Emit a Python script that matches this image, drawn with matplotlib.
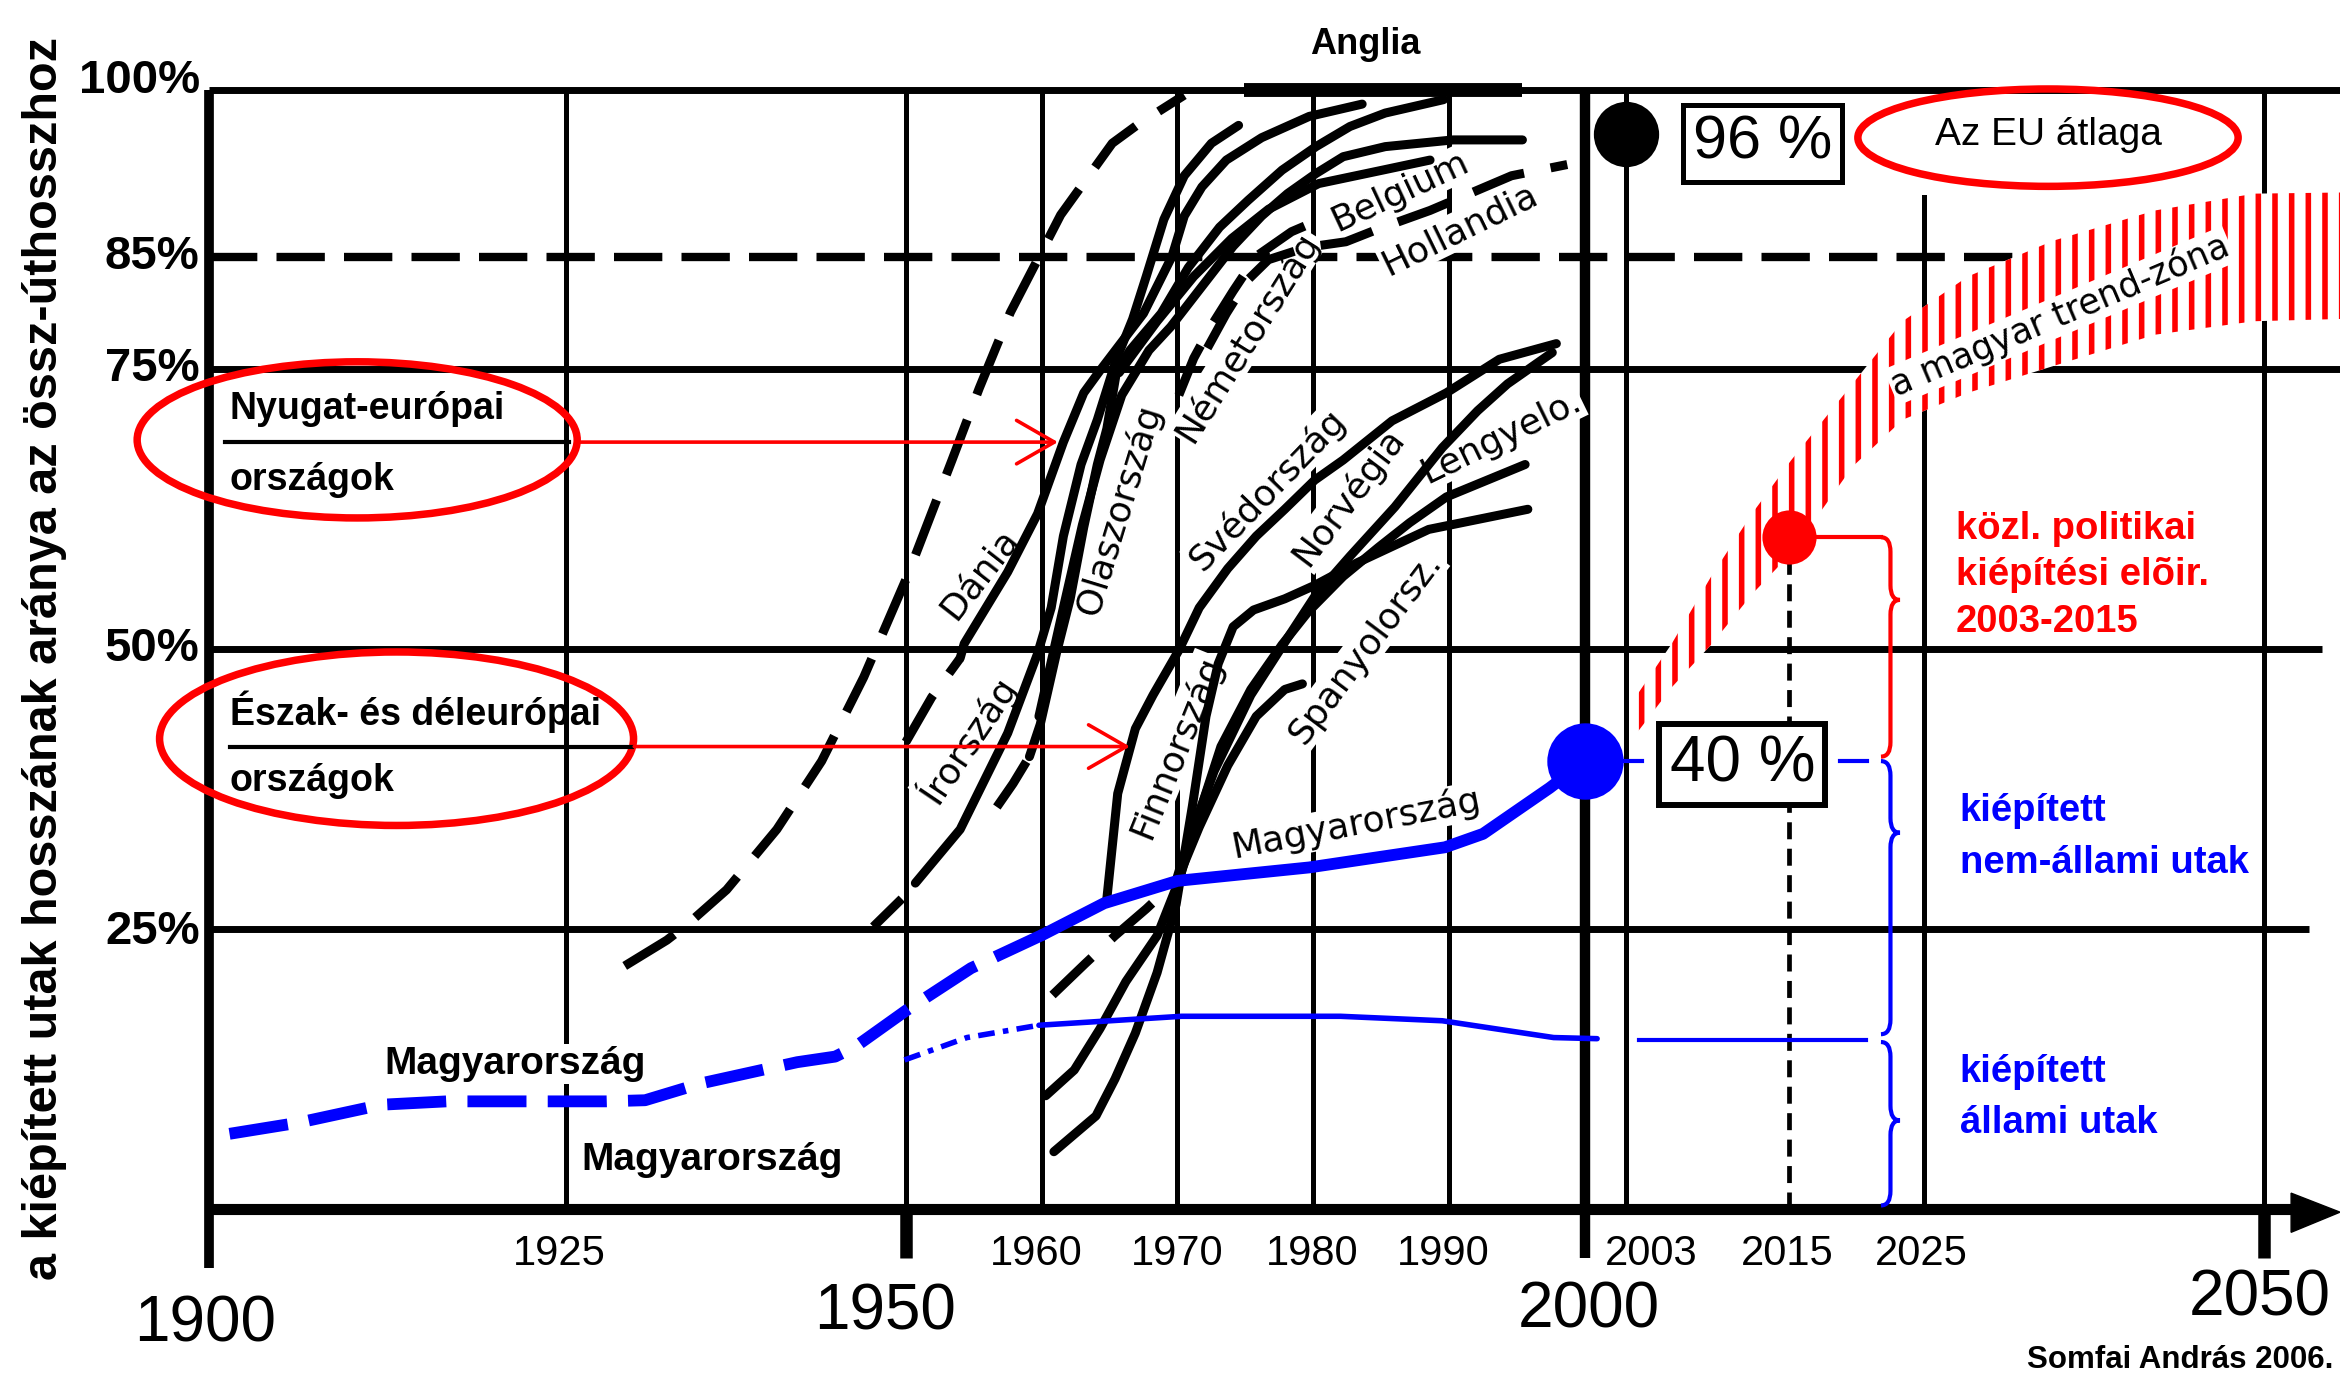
import matplotlib.pyplot as plt
from matplotlib.patches import Ellipse, Polygon, PathPatch
from matplotlib.path import Path

plt.rcParams['font.family'] = ['Liberation Sans', 'DejaVu Sans']
plt.rcParams['hatch.linewidth'] = 4.0
plt.rcParams['hatch.color'] = '#ff0000'

BLUE = '#0000ff'
RED = '#ff0000'

# share of built (paved) roads in total road length, %
anglia_years = [1929.3, 1932.4, 1934.0, 1936.8, 1940.5, 1943.8, 1946.9, 1950.1, 1953.4,
                1955.4, 1957.7, 1961.4, 1965.2, 1967.0, 1970.5]
anglia_pct = [21.7, 24.0, 25.5, 28.5, 33.9, 40.0, 47.5, 56.5, 66.9, 73.3, 80.1, 88.8, 95.2, 96.8, 99.5]

dania_years = [1950.0, 1951.9, 1954.0, 1954.3, 1957.5, 1959.7, 1961.6, 1963.1, 1964.3, 1967.5,
               1969.6, 1970.5, 1971.8, 1973.6, 1976.2, 1979.7, 1983.6]
dania_pct = [41.7, 45.7, 49.2, 50.5, 56.9, 62.1, 68.5, 72.9, 74.9, 80.0, 85.1, 88.7, 91.3, 93.7,
             95.7, 97.6, 98.7]

irorszag_years = [1947.6, 1949.7, 1950.7, 1954.0, 1957.5, 1959.7, 1960.7, 1961.6, 1962.9, 1964.1,
                  1965.5, 1966.7, 1967.7, 1969.0, 1970.5, 1972.5, 1974.5]
irorszag_pct = [25.2, 27.7, 29.1, 33.9, 42.5, 49.6, 53.7, 60.1, 66.5, 70.5, 75.9, 79.5, 83.3, 88.4,
                92.3, 95.2, 96.8]

olasz1_years = [1956.7, 1957.9, 1959.1, 1959.9, 1961.1, 1962.1, 1963.1, 1964.1, 1964.8, 1965.5,
                1966.5, 1968.8, 1970.8, 1973.1, 1975.2, 1977.7, 1980.2, 1982.7, 1985.3, 1989.6]
olasz1_pct = [35.9, 38.0, 40.4, 43.3, 49.7, 54.5, 60.9, 66.5, 69.7, 74.7, 76.7, 80.0, 84.1, 87.7,
              90.1, 92.8, 94.9, 96.7, 97.9, 99.1]

olasz2_years = [1959.8, 1961.6, 1963.0, 1964.3, 1965.9, 1967.9, 1969.5, 1971.8, 1974.1, 1976.2,
                1978.1, 1980.2, 1982.2, 1985.3, 1990.3, 1995.4]
olasz2_pct = [44.0, 53.7, 61.1, 66.9, 72.7, 76.7, 78.8, 82.4, 86.0, 88.7, 90.7, 92.5, 94.0, 94.9,
              95.5, 95.5]

belgium_years = [1965.7, 1968.5, 1971.2, 1974.0, 1976.7, 1980.4, 1985.1, 1988.6]
belgium_pct = [74.7, 79.3, 83.3, 86.7, 89.3, 91.6, 92.8, 93.7]

nemet_years = [1970.1, 1971.2, 1972.5, 1974.1, 1975.8, 1978.4, 1981.1]
nemet_pct = [72.7, 76.0, 78.9, 82.0, 85.1, 87.3, 88.7]

holland_years = [1972.2, 1973.6, 1975.1, 1976.7, 1979.5, 1982.4, 1984.7, 1988.6, 1994.6, 1998.7]
holland_pct = [76.9, 80.0, 82.9, 84.8, 85.9, 86.4, 87.5, 89.2, 92.3, 93.3]

sved_years = [1964.8, 1965.6, 1966.9, 1968.2, 1970.1, 1971.6, 1973.7, 1975.8, 1977.9, 1980.1,
              1982.2, 1985.8, 1989.8, 1993.7, 1997.9]
sved_pct = [27.7, 37.1, 42.9, 45.9, 49.9, 53.7, 57.2, 60.1, 62.5, 65.1, 66.9, 70.4, 72.9, 75.9, 77.3]

finn_years = [1960.9, 1964.0, 1965.4, 1966.9, 1968.5, 1969.9, 1971.1, 1972.1, 1973.0, 1974.1,
              1975.6, 1977.9, 1980.1, 1983.2, 1988.5, 1995.8]
finn_pct = [5.1, 8.3, 11.6, 15.7, 21.1, 27.2, 36.0, 44.0, 48.7, 52.0, 53.5, 54.5, 55.7, 57.7,
            60.7, 62.5]

lengyel_years = [1960.3, 1962.4, 1964.3, 1966.2, 1968.5, 1970.1, 1971.6, 1973.2, 1975.4, 1977.7,
                 1979.6, 1982.2, 1984.8, 1987.1, 1989.8, 1995.6]
lengyel_pct = [10.1, 12.4, 16.1, 20.3, 24.4, 29.3, 35.3, 41.3, 46.4, 50.4, 53.3, 56.5, 59.1, 61.3,
               63.6, 66.5]

norv_years = [1960.8, 1963.2, 1965.4, 1967.7, 1969.9, 1970.5, 1972.7, 1975.4, 1978.0, 1980.1,
              1982.7, 1986.0, 1989.5, 1992.1, 1994.3, 1997.6]
norv_pct = [19.1, 21.9, 24.4, 26.8, 29.3, 31.7, 39.1, 45.9, 50.8, 54.7, 58.3, 62.7, 68.0, 71.3,
            73.7, 76.5]

spany_years = [1970.1, 1971.6, 1973.7, 1975.8, 1977.9, 1979.2]
spany_pct = [29.7, 34.1, 39.6, 44.0, 46.4, 46.9]

# Hungary: all built roads / built state roads
hu_total_years = [1900.2, 1905.3, 1911.4, 1916.2, 1927.9, 1930.8, 1934.9, 1942.0, 1944.8, 1946.3,
                  1950.0, 1954.8, 1960.1, 1964.6, 1970.0, 1979.7, 1989.7, 1992.5, 1997.4, 2000.0]
hu_total_pct = [6.7, 7.7, 9.3, 9.6, 9.6, 9.7, 11.2, 13.1, 13.6, 14.5, 17.7, 21.5, 24.5, 27.3, 29.3,
                30.5, 32.3, 33.5, 37.6, 40.0]
hu_state_years = [1949.9, 1954.5, 1959.8, 1970.3, 1982.0, 1989.5, 1997.7, 2000.9]
hu_state_pct = [13.3, 15.3, 16.4, 17.2, 17.2, 16.8, 15.3, 15.2]

# Hungarian trend zone
trend_years = [2003.5, 2006.4, 2009.3, 2012.3, 2015.2, 2019.7, 2023.4, 2028.2, 2034.5, 2042.0,
               2049.3, 2055.6]
trend_upper = [45.3, 50.5, 56.5, 62.1, 66.9, 73.7, 79.3, 83.3, 86.5, 89.2, 90.7, 90.8]
trend_lower = [42.0, 46.6, 50.4, 54.9, 58.6, 66.3, 70.5, 72.9, 75.3, 78.1, 79.3, 79.5]

eu_avg = (2003, 96)
hu_2000 = (2000, 40)
target_2015 = (2015, 60)

fig = plt.figure(figsize=(23.4, 13.73), dpi=100)
ax = fig.add_axes([0, 0, 1, 1])
ax.set_xlim(1883.3, 2055.6)
ax.set_ylim(-14.67, 108.0)
ax.axis('off')

X0 = 1898.7   # left frame line (under the "1900" label)
XR = 2055.6

# ---- grid / frame ----
for lvl, end in zip([100, 75, 50, 25], [XR, XR, 2054.3, 2053.3]):
    ax.plot([X0, end], [lvl, lvl], color='black', lw=5, solid_capstyle='butt', zorder=1)
ax.plot([X0, XR], [85, 85], color='black', lw=6, dashes=(5.8, 2.3), zorder=1)
for yr, top in zip([1925, 1950, 1960, 1970, 1980, 1990, 2003, 2025, 2050],
                   [100, 100, 100, 100, 100, 100, 100, 90.4, 100]):
    ax.plot([yr, yr], [0, top], color='black', lw=3.6, zorder=1)
ax.plot([2000, 2000], [-4.4, 100], color='black', lw=7.5, solid_capstyle='butt', zorder=1)
ax.plot([2015, 2015], [0, 60], color='black', lw=3.4, dashes=(3.6, 2.0), zorder=1)
ax.plot([X0, X0], [-5.3, 100], color='black', lw=7, solid_capstyle='butt', zorder=1)
ax.plot([X0, 2052.5], [0, 0], color='black', lw=8, solid_capstyle='butt', zorder=1)
for yr in [1950, 2050]:
    ax.plot([yr, yr], [0, -4.4], color='black', lw=9, solid_capstyle='butt', zorder=1)
ax.add_patch(Polygon([(2052.0, 1.4), (XR, -0.3), (2052.0, -2.1)], closed=True,
                     color='black', zorder=1))
ax.plot([1974.9, 1995.4], [100, 100], color='black', lw=10, solid_capstyle='butt', zorder=1)

# ---- trend zone ----
ax.fill_between(trend_years, trend_lower, trend_upper, facecolor='white', edgecolor=RED,
                hatch='|', linewidth=0, zorder=2)
ax.text(2035.0, 79.8, 'a magyar trend-zóna', fontsize=25, family='DejaVu Sans', rotation=23,
        rotation_mode='anchor', ha='center', va='center', zorder=2.2,
        bbox=dict(boxstyle='square,pad=0.05', fc='white', ec='none'))


def draw(xs, ys, n_dash=0, join=True, lw=6.5, dashes=(6, 3), color='black', z=3):
    if n_dash:
        ax.plot(xs[:n_dash], ys[:n_dash], color=color, lw=lw, dashes=dashes, zorder=z)
    start = n_dash - 1 if (n_dash and join) else n_dash
    if start < len(xs) - 1:
        ax.plot(xs[start:], ys[start:], color=color, lw=lw, solid_joinstyle='round',
                solid_capstyle='round', zorder=z)


draw(anglia_years, anglia_pct, n_dash=len(anglia_years), lw=6.5, dashes=(6.5, 3.0))
draw(dania_years, dania_pct, n_dash=3)
draw(irorszag_years, irorszag_pct, n_dash=2, join=False)
draw(olasz1_years, olasz1_pct, n_dash=3)
draw(olasz2_years, olasz2_pct)
draw(belgium_years, belgium_pct)
draw(nemet_years, nemet_pct, n_dash=len(nemet_years))
draw(holland_years, holland_pct, n_dash=len(holland_years))
draw(sved_years, sved_pct)
draw(finn_years, finn_pct)
draw(lengyel_years, lengyel_pct)
draw(norv_years, norv_pct, n_dash=5)
draw(spany_years, spany_pct)

draw(hu_total_years, hu_total_pct, n_dash=13, lw=8.5, dashes=(5, 1.8), color=BLUE, z=3.5)
draw(hu_state_years, hu_state_pct, n_dash=3, lw=4, dashes=(3, 1.5, 1, 1.5), color=BLUE, z=3.5)
ax.plot([2004.0, 2020.7], [15.1, 15.1], color=BLUE, lw=3, zorder=3.5)
ax.plot([2000, 2004.2], [40, 40], color=BLUE, lw=3, zorder=3.5)
ax.plot([2018.8, 2020.8], [40, 40], color=BLUE, lw=3, zorder=3.5)
ax.plot([target_2015[0], 2021.8], [target_2015[1]] * 2, color=RED, lw=3, zorder=3.5)


def brace(x, top, bottom, tip, color):
    dx, dy = 0.7, 1.3
    verts = [(x - dx, top), (x, top), (x, top - dy), (x, tip + dy),
             (x, tip), (x + dx, tip), (x, tip), (x, tip - dy),
             (x, bottom + dy), (x, bottom), (x - dx, bottom)]
    codes = [Path.MOVETO, Path.CURVE3, Path.CURVE3, Path.LINETO,
             Path.CURVE3, Path.CURVE3, Path.CURVE3, Path.CURVE3,
             Path.LINETO, Path.CURVE3, Path.CURVE3]
    ax.add_patch(PathPatch(Path(verts, codes), fill=False, ec=color, lw=3, zorder=4))


brace(2022.5, 60.0, 40.4, 54.4, RED)
brace(2022.5, 40.0, 15.6, 33.6, BLUE)
brace(2022.5, 14.9, 0.3, 7.9, BLUE)

# ---- dots and boxes ----
ax.plot(*eu_avg, 'o', ms=47, color='black', mec='none', zorder=5)
ax.plot(*hu_2000, 'o', ms=55, color=BLUE, mec='none', zorder=5)
ax.plot(*target_2015, 'o', ms=39, color=RED, mec='none', zorder=5)
ax.text(2013.1, 95.2, '96 %', fontsize=44, ha='center', va='center', zorder=5,
        bbox=dict(boxstyle='square,pad=0.16', fc='white', ec='black', lw=3.6))
ax.text(2011.6, 39.7, '40 %', fontsize=46, ha='center', va='center', zorder=5,
        bbox=dict(boxstyle='square,pad=0.16', fc='white', ec='black', lw=4.3))
ax.add_patch(Ellipse((2034.1, 95.7), 28.0, 8.7, fill=False, ec=RED, lw=5.4, zorder=4))
ax.text(2034.1, 95.9, 'Az EU átlaga', fontsize=28, ha='center', va='center', zorder=5)

# ---- left group boxes ----
ax.add_patch(Ellipse((1909.6, 68.7), 32.4, 13.95, fill=False, ec=RED, lw=5.4, zorder=4))
ax.add_patch(Ellipse((1912.5, 42.0), 34.9, 15.5, fill=False, ec=RED, lw=5.4, zorder=4))
ax.plot([1899.9, 1925.2], [68.5, 68.5], color='black', lw=3, zorder=4)
ax.plot([1900.2, 1929.8], [41.3, 41.3], color='black', lw=3, zorder=4)
arrow = dict(arrowstyle='->,head_length=0.4,head_width=0.23', color=RED, lw=2.6,
             mutation_scale=68, shrinkA=0, shrinkB=0)
ax.annotate('', xy=(1961.2, 68.5), xytext=(1925.7, 68.5), arrowprops=arrow, zorder=4)
ax.annotate('', xy=(1966.5, 41.3), xytext=(1930.0, 41.3), arrowprops=arrow, zorder=4)
for s, y in [('Nyugat-európai', 71.5), ('országok', 65.1),
             ('Észak- és déleurópai', 44.4), ('országok', 38.2)]:
    ax.text(1900.2, y, s, fontsize=27, fontweight='bold', ha='left', va='center', zorder=5)

# ---- country labels ----
lab_box = dict(boxstyle='square,pad=0.05', fc='white', ec='none')
country_labels = [('Dánia', 1955.5, 56.7, 52), ('Írország', 1954.5, 42.0, 56),
                  ('Olaszország', 1965.7, 62.5, 73), ('Németország', 1975.1, 77.9, 58),
                  ('Belgium', 1986.4, 90.9, 25), ('Hollandia', 1990.8, 87.5, 26),
                  ('Svédország', 1976.6, 64.3, 46), ('Norvégia', 1982.6, 63.6, 53),
                  ('Lengyelo.', 1993.8, 69.0, 26), ('Spanyolorsz.', 1983.8, 50.1, 53),
                  ('Finnország', 1969.9, 41.3, 68)]
for s, x, y, rot in country_labels:
    ax.text(x, y, s, fontsize=26, family='DejaVu Sans', rotation=rot, rotation_mode='anchor',
            ha='center', va='center', bbox=lab_box, zorder=2.5)
ax.text(1983.8, 104.0, 'Anglia', fontsize=26, fontweight='bold', ha='center', va='center')
ax.text(1983.2, 34.4, 'Magyarország', fontsize=26, family='DejaVu Sans', rotation=11,
        rotation_mode='anchor', ha='center', va='center', bbox=lab_box, zorder=2.5)
ax.text(1921.2, 12.9, 'Magyarország', fontsize=28, fontweight='bold', ha='center',
        va='center', bbox=lab_box, zorder=2.5)
ax.text(1935.7, 4.4, 'Magyarország', fontsize=28, fontweight='bold', ha='center',
        va='center', bbox=lab_box, zorder=2.5)

# ---- right side notes ----
for s, y in [('közl. politikai', 60.7), ('kiépítési elõir.', 56.6), ('2003-2015', 52.4)]:
    ax.text(2027.3, y, s, fontsize=27.5, fontweight='bold', color=RED, ha='left', va='center')
for s, y in [('kiépített', 35.5), ('nem-állami utak', 30.9), ('kiépített', 12.2),
             ('állami utak', 7.7)]:
    ax.text(2027.6, y, s, fontsize=27.5, fontweight='bold', color=BLUE, ha='left', va='center')

# ---- axis labels ----
for v, ty in zip([100, 85, 75, 50, 25], [100.8, 85, 75, 50, 24.7]):
    ax.text(1898.0, ty, f'{v}%', fontsize=34, fontweight='bold', ha='right', va='center')
for s, x in zip(['1925', '1960', '1970', '1980', '1990', '2003', '2015', '2025'],
                [1924.5, 1959.6, 1970.0, 1979.9, 1989.6, 2004.9, 2014.9, 2024.8]):
    ax.text(x, -4.0, s, fontsize=30, ha='center', va='center')
for s, x, y in [('1900', 1898.4, -10.3), ('1950', 1948.5, -9.3), ('2000', 2000.3, -9.1),
                ('2050', 2049.7, -8.0)]:
    ax.text(x, y, s, fontsize=46, ha='center', va='center')
ax.text(1886.6, 49.2, 'a kiépített utak hosszának aránya az össz-úthosszhoz', fontsize=35,
        fontweight='bold', rotation=90, ha='center', va='center')
ax.text(2055.1, -13.5, 'Somfai András 2006.', fontsize=22.5, fontweight='bold', ha='right',
        va='center')

fig.savefig('out.png', dpi=100)
